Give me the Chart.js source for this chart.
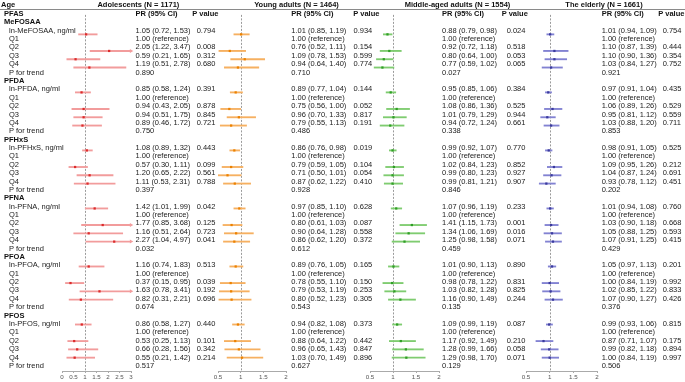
<!DOCTYPE html>
<html><head><meta charset="utf-8">
<script src="https://cdn.jsdelivr.net/npm/chart.js@4.4.1/dist/chart.umd.min.js"></script>
<style>
html,body{margin:0;padding:0;background:#fff;}
#wrap{position:relative;width:685px;height:382px;overflow:hidden;font-family:"Liberation Sans",Arial,Helvetica,sans-serif;color:#1a1a1a;}
#wrap canvas{position:absolute;top:0;}
.t{position:absolute;white-space:nowrap;font-size:7.5px;line-height:1;transform:translateY(-50%);}
.b{font-weight:bold;color:#111;}
.hl{position:absolute;left:0;width:685px;height:1px;background:#8a8a8a;}
</style></head><body><div id="wrap"></div>
<script>
// ---------------- DATA ----------------
const compounds = ['MeFOSAA','PFDA','PFHxS','PFNA','PFOA','PFOS'];
const groupTitles = ['Adolescents (N = 1171)','Young adults (N = 1464)','Middle-aged adults (N = 1554)','The elderly (N = 1661)'];
const adolTicks = [0,0.5,1,1.5,2,2.5,3];
const adultTicks = [0.5,1,1.5,2];
// each compound: ln-continuous, Q2, Q3, Q4
const adolPR = [1.05,2.05,0.59,1.19, 0.85,0.94,0.94,0.89, 1.08,0.57,1.20,1.11, 1.42,1.77,1.16,2.27, 1.16,0.37,1.63,0.82, 0.86,0.53,0.66,0.55];
const adolLo = [0.72,1.22,0.21,0.51, 0.58,0.43,0.51,0.46, 0.89,0.30,0.65,0.53, 1.01,0.85,0.51,1.04, 0.74,0.15,0.78,0.31, 0.58,0.25,0.28,0.21];
const adolHi = [1.53,3.47,1.65,2.78, 1.24,2.05,1.75,1.72, 1.32,1.11,2.22,2.31, 1.99,3.68,2.64,4.97, 1.83,0.95,3.41,2.21, 1.27,1.13,1.56,1.42];
const adolP  = ['0.794','0.008','0.312','0.680', '0.391','0.878','0.845','0.721', '0.443','0.099','0.561','0.788', '0.042','0.125','0.723','0.041', '0.513','0.039','0.192','0.696', '0.440','0.101','0.342','0.214'];
const adolTrend = ['0.890','0.750','0.397','0.032','0.674','0.517'];

const youngPR = [1.01,0.76,1.09,0.94, 0.89,0.75,0.96,0.79, 0.86,0.79,0.71,0.87, 0.97,0.80,0.90,0.86, 0.89,0.78,0.79,0.80, 0.94,0.88,0.96,1.03];
const youngLo = [0.85,0.52,0.78,0.64, 0.77,0.56,0.70,0.55, 0.76,0.59,0.50,0.62, 0.85,0.61,0.64,0.62, 0.76,0.55,0.53,0.52, 0.82,0.64,0.65,0.70];
const youngHi = [1.19,1.11,1.53,1.40, 1.04,1.00,1.33,1.13, 0.98,1.05,1.01,1.22, 1.10,1.03,1.28,1.20, 1.05,1.10,1.19,1.23, 1.08,1.22,1.43,1.49];
const youngP  = ['0.934','0.154','0.599','0.774', '0.144','0.052','0.817','0.191', '0.019','0.104','0.054','0.410', '0.628','0.087','0.558','0.372', '0.165','0.150','0.253','0.305', '0.373','0.442','0.847','0.896'];
const youngTrend = ['0.710','0.486','0.928','0.612','0.543','0.627'];

const midPR = [0.88,0.92,0.80,0.77, 0.95,1.08,1.01,0.94, 0.99,1.02,0.99,0.99, 1.07,1.41,1.34,1.25, 1.01,0.98,1.03,1.16, 1.09,1.17,1.28,1.29];
const midLo = [0.79,0.72,0.64,0.59, 0.85,0.86,0.79,0.72, 0.92,0.84,0.80,0.81, 0.96,1.15,1.06,0.98, 0.90,0.78,0.82,0.90, 0.99,0.92,0.99,0.98];
const midHi = [0.98,1.18,1.00,1.02, 1.06,1.36,1.29,1.24, 1.07,1.23,1.23,1.21, 1.19,1.73,1.69,1.58, 1.13,1.22,1.28,1.49, 1.19,1.49,1.66,1.70];
const midP  = ['0.024','0.518','0.053','0.065', '0.384','0.525','0.944','0.661', '0.770','0.852','0.927','0.907', '0.233','0.001','0.016','0.071', '0.890','0.831','0.825','0.244', '0.087','0.210','0.058','0.071'];
const midTrend = ['0.027','0.338','0.846','0.459','0.135','0.129'];

const eldPR = [1.01,1.10,1.10,1.03, 0.97,1.06,0.95,1.03, 0.98,1.09,1.04,0.93, 1.01,1.03,1.05,1.07, 1.05,1.00,1.02,1.07, 0.99,0.87,0.99,1.00];
const eldLo = [0.94,0.87,0.90,0.84, 0.91,0.89,0.81,0.88, 0.91,0.95,0.87,0.78, 0.94,0.90,0.88,0.91, 0.97,0.84,0.85,0.90, 0.93,0.71,0.82,0.84];
const eldHi = [1.09,1.39,1.36,1.27, 1.04,1.26,1.12,1.20, 1.05,1.26,1.24,1.12, 1.08,1.18,1.25,1.25, 1.13,1.19,1.22,1.27, 1.06,1.07,1.18,1.19];
const eldP  = ['0.754','0.444','0.354','0.752', '0.435','0.529','0.559','0.711', '0.525','0.212','0.691','0.451', '0.760','0.668','0.593','0.415', '0.201','0.992','0.833','0.426', '0.815','0.175','0.894','0.997'];
const eldTrend = ['0.921','0.853','0.202','0.429','0.376','0.506'];

// ---------------- LAYOUT / STYLE ----------------
const ROW0 = 13.94, ROWH = 8.38, H = 382, AXIS_H = 11;
const FAMILY = '"Liberation Sans", Arial, Helvetica, sans-serif';
const panels = [
  {pr:adolPR, lo:adolLo, hi:adolHi, p:adolP, trend:adolTrend, ticks:adolTicks, left:52, width:89, titleX:138.4, prX:135.5, pHX:192.3, pX:196.7, line:'#f29c9c', point:'#dc2b2b'},
  {pr:youngPR, lo:youngLo, hi:youngHi, p:youngP, trend:youngTrend, ticks:adultTicks, left:208, width:88, titleX:296.5, prX:291.3, pHX:353.3, pX:353.5, line:'#f6b061', point:'#ec8200'},
  {pr:midPR, lo:midLo, hi:midHi, p:midP, trend:midTrend, ticks:adultTicks, left:360, width:89, titleX:457.5, prX:442, pHX:501.7, pX:506.7, line:'#7fcc70', point:'#2f9e25'},
  {pr:eldPR, lo:eldLo, hi:eldHi, p:eldP, trend:eldTrend, ticks:adultTicks, left:516, width:91, titleX:604, prX:601.7, pHX:658.3, pX:662.7, line:'#8282d2', point:'#3a3a9e'}
];

const wrap = document.getElementById('wrap');
const rowY = r => ROW0 + ROWH * r;
const rowOf = (c, k) => 2 + 7 * c + k; // k: 0 ln,1 Q1,2 Q2,3 Q3,4 Q4,5 trend
const estRow = (i) => { const c = Math.floor(i / 4), j = i % 4; return rowOf(c, j === 0 ? 0 : j + 1); };

function txt(s, x, y, cls, center) {
  const d = document.createElement('div');
  d.className = 't' + (cls ? ' ' + cls : '');
  d.textContent = s;
  d.style.left = x + 'px';
  d.style.top = y + 'px';
  if (center) d.style.transform = 'translate(-50%,-50%)';
  wrap.appendChild(d);
}

const refLine = {
  id: 'refLine',
  beforeDatasetsDraw(chart) {
    const {ctx, chartArea} = chart, x = chart.scales.x, y = chart.scales.y;
    const px = Math.round(x.getPixelForValue(1)) + 0.5;
    ctx.save();
    ctx.strokeStyle = '#9a9a9a';
    ctx.lineWidth = 1;
    ctx.setLineDash([2, 1.5]);
    ctx.beginPath();
    ctx.moveTo(px, y.getPixelForValue(-0.35));
    ctx.lineTo(px, chartArea.bottom);
    ctx.stroke();
    ctx.restore();
  }
};

const yMin = -ROW0 / ROWH, yMax = yMin + (H - AXIS_H) / ROWH;

panels.forEach((P, pi) => {
  const xmin = P.ticks[0], xmax = P.ticks[P.ticks.length - 1];
  const pts = [], cis = [], arrows = [];
  P.pr.forEach((v, i) => {
    const r = estRow(i);
    pts.push({x: v, y: r});
    cis.push({y: r, x: [P.lo[i], P.hi[i]]});
    if (P.hi[i] > xmax) arrows.push({x: xmax, y: r});
  });
  const cv = document.createElement('canvas');
  cv.width = P.width; cv.height = H;
  cv.style.left = P.left + 'px';
  cv.style.width = P.width + 'px'; cv.style.height = H + 'px';
  wrap.appendChild(cv);
  new Chart(cv, {
    type: 'bar',
    data: {datasets: [
      {type: 'scatter', data: pts, pointStyle: 'rect', pointRadius: 1.6, backgroundColor: P.point, borderWidth: 0, order: 0},
      {type: 'scatter', data: arrows, pointStyle: 'triangle', rotation: 90, pointRadius: 2.3, backgroundColor: P.line, borderWidth: 0, clip: false, order: 1},
      {type: 'bar', indexAxis: 'y', data: cis, backgroundColor: P.line, barThickness: 1.2, borderWidth: 0, clip: 0, order: 2}
    ]},
    options: {
      responsive: false, animation: false, devicePixelRatio: 1,
      layout: {padding: {left: 10, right: 10, top: 0, bottom: 0}},
      plugins: {legend: {display: false}, tooltip: {enabled: false}},
      scales: {
        x: {type: 'linear', min: xmin, max: xmax, offset: false,
            afterFit: s => { s.height = AXIS_H; },
            afterBuildTicks: s => { s.ticks = P.ticks.map(v => ({value: v})); },
            ticks: {font: {size: 6.2, family: FAMILY}, color: '#555', padding: 1, autoSkip: false, maxRotation: 0,
                    callback: v => String(v)},
            grid: {drawOnChartArea: false, tickLength: 2, color: '#aaa', offset: false},
            border: {color: '#aaa'}},
        y: {type: 'linear', display: false, min: yMin, max: yMax, reverse: true, offset: false, grid: {offset: false}}
      }
    },
    plugins: [refLine]
  });
});

// ---------------- TEXT ----------------
const hl = document.createElement('div'); hl.className = 'hl'; hl.style.top = '9px'; wrap.appendChild(hl);
txt('Age', 1, 5, 'b');
txt('PFAS', 4, rowY(0), 'b');
panels.forEach((P, pi) => {
  txt(groupTitles[pi], P.titleX, 5, 'b', true);
  txt('PR (95% CI)', P.prX, rowY(0), 'b');
  txt('P value', P.pHX, rowY(0), 'b');
});
compounds.forEach((c, ci) => {
  txt(c, 4, rowY(1 + 7 * ci), 'b');
  const labels = ['ln-' + c + ', ng/ml', 'Q1', 'Q2', 'Q3', 'Q4', 'P for trend'];
  labels.forEach((l, k) => txt(l, 9, rowY(rowOf(ci, k))));
  panels.forEach(P => {
    txt('1.00 (reference)', P.prX, rowY(rowOf(ci, 1)));
    txt(P.trend[ci], P.prX, rowY(rowOf(ci, 5)));
  });
});
panels.forEach(P => {
  P.pr.forEach((v, i) => {
    const r = estRow(i);
    txt(v.toFixed(2) + ' (' + P.lo[i].toFixed(2) + ', ' + P.hi[i].toFixed(2) + ')', P.prX, rowY(r));
    txt(P.p[i], P.pX, rowY(r));
  });
});
</script></body></html>
